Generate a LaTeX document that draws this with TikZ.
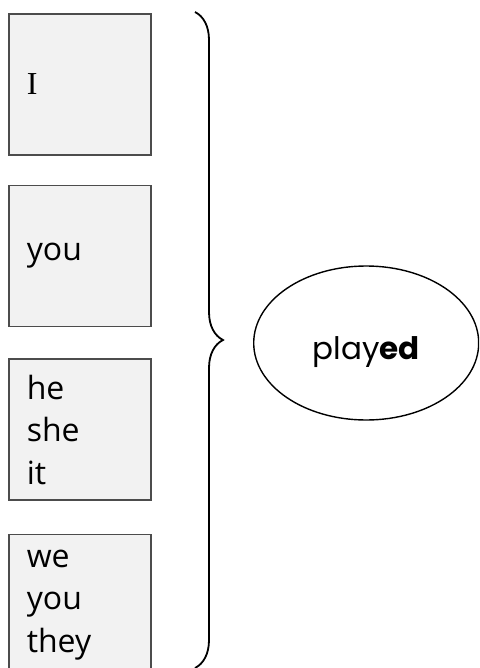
\documentclass[tikz,border=0pt]{standalone}
\usepackage{fontspec}
\setmainfont{Open Sans}
\newfontfamily\endingfont{Poppins}
\newfontfamily\capfont{Liberation Serif}
\usetikzlibrary{positioning,shapes.geometric,decorations.pathreplacing}
\tikzset{
  pbox/.style={draw=black!70, fill=black!5, line width=1.6pt, rectangle, minimum width=142pt, minimum height=141pt, text width=106pt, inner xsep=18pt, align=left, font=\fontsize{32}{42.5}\selectfont},
  oval/.style={draw, ellipse, line width=1.4pt, minimum width=225pt, minimum height=154pt},
  word/.style={font=\endingfont\fontsize{31}{37}\selectfont},
  brc/.style={decorate, decoration={brace, amplitude=28pt}, line width=1.8pt},
}
\begin{document}
\begin{tikzpicture}[x=1pt,y=-1pt]
\useasboundingbox (0,0) rectangle (479,668);
\clip (0,0) rectangle (479,668);

\node[pbox, anchor=north west] (first) at (8,13) {\capfont I};
\node[pbox, below=29pt of first] (second) {you};
\node[pbox, below=31pt of second] (third) {he\\she\\it};
\node[pbox, below=33pt of third] (fourth) {we\\you\\they};

% brace
\coordinate (btop) at (195,12);
\coordinate (bbot) at (195,668);
\draw[brc] (btop) -- (bbot);

\coordinate (tip) at (223,343);
\node[oval, right=30pt of tip] (ring) {};
\node[word, anchor=base] (played) at ([yshift=-16pt]ring.center) {play\textbf{ed}};

\end{tikzpicture}
\end{document}
